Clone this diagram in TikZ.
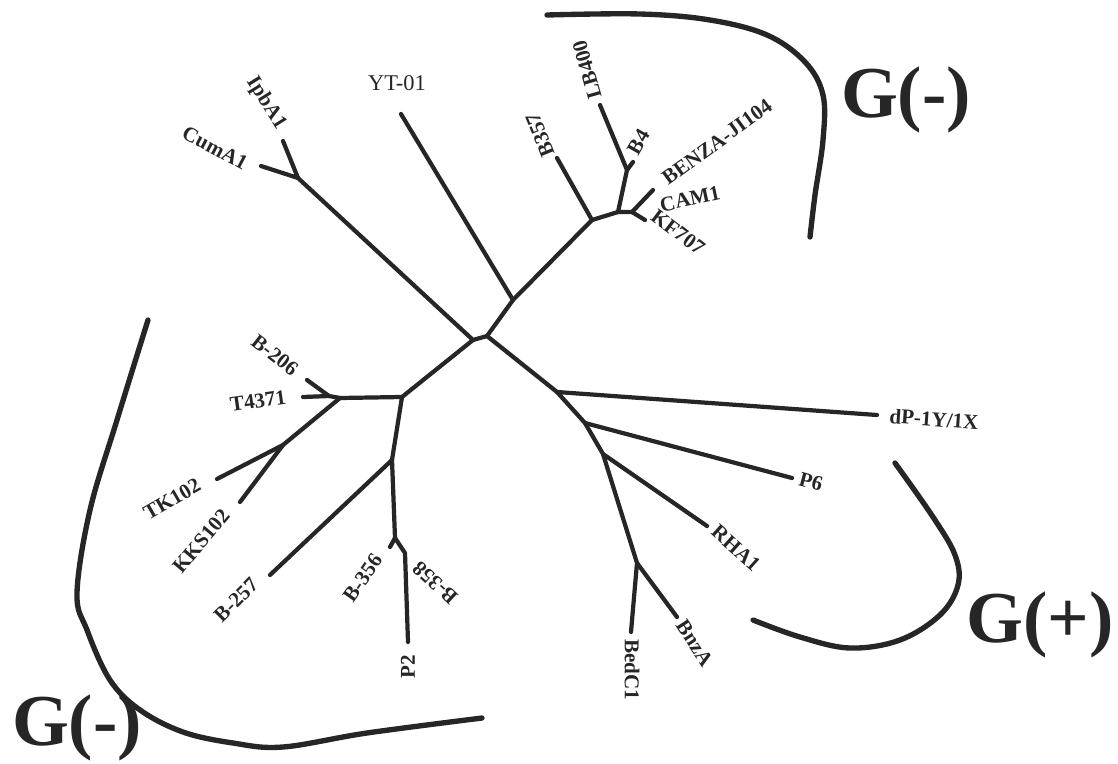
\documentclass[tikz,border=0pt]{standalone}
\usepackage{fontspec}
\setmainfont{Liberation Serif}
\usetikzlibrary{positioning}

\begin{document}
\begin{tikzpicture}[
    x=0.025cm, y=-0.025cm,
    every node/.style={font=\bfseries\fontsize{15}{15}\selectfont, inner sep=0pt, text=black!85},
    branch/.style={line width=3pt, line cap=round, line join=round, color=black!85},
    taxon/.style={anchor=center},
    group/.style={font=\bfseries\fontsize{52}{52}\selectfont},
    bracket/.style={line width=3.8pt, line cap=round, color=black!85}
]
\useasboundingbox (0,0) rectangle (1118,763);

% Internal nodes
\coordinate (a) at (473,340);
\coordinate (b) at (487,336);
\coordinate (c) at (513,300);
\coordinate (d) at (592,220);
\coordinate (e) at (618,212);
\coordinate (f) at (627,170);
\coordinate (g) at (632,212);
\coordinate (h) at (298,178);
\coordinate (i) at (402,397);
\coordinate (j) at (340,398);
\coordinate (k) at (329,396);
\coordinate (l) at (283,445);
\coordinate (m) at (392,460);
\coordinate (n) at (395,538);
\coordinate (o) at (405,553);
\coordinate (p) at (557,392);
\coordinate (q) at (585,423);
\coordinate (r) at (603,454);
\coordinate (s) at (637,563);

% Leaf ends
\coordinate (ipb)   at (283,141);
\coordinate (cum)   at (261,166);
\coordinate (yt)    at (401,114);
\coordinate (b357)  at (557,158);
\coordinate (lb)    at (600,105);
\coordinate (b4)    at (633,162);
\coordinate (benza) at (653,190);
\coordinate (kf)    at (645,220);
\coordinate (b206)  at (307,380);
\coordinate (t43)   at (303,397);
\coordinate (tk)    at (217,479);
\coordinate (kks)   at (240,502);
\coordinate (b257)  at (270,575);
\coordinate (b356)  at (390,547);
\coordinate (p2)    at (408,642);
\coordinate (dp)    at (877,415);
\coordinate (p6)    at (792,478);
\coordinate (rha)   at (707,526);
\coordinate (bed)   at (631,632);
\coordinate (bnz)   at (677,617);

% Branches
\draw[branch] (ipb) -- (h) -- (cum);
\draw[branch] (h) -- (a) -- (b) -- (c) -- (yt);
\draw[branch] (c) -- (d) -- (b357);
\draw[branch] (d) -- (e) -- (f) -- (lb);
\draw[branch] (f) -- (b4);
\draw[branch] (e) -- (g) -- (benza);
\draw[branch] (g) -- (kf);
\draw[branch] (a) -- (i) -- (j) -- (k) -- (t43);
\draw[branch] (k) -- (b206);
\draw[branch] (j) -- (l) -- (tk);
\draw[branch] (l) -- (kks);
\draw[branch] (i) -- (m) -- (b257);
\draw[branch] (m) -- (n) -- (b356);
\draw[branch] (n) -- (o) -- (p2);
\draw[branch] (b) -- (p) -- (dp);
\draw[branch] (p) -- (q) -- (p6);
\draw[branch] (q) -- (r) -- (rha);
\draw[branch] (r) -- (s) -- (bed);
\draw[branch] (s) -- (bnz);

% Taxon labels
\node[taxon, rotate=-58] (lipb)   at (266,103) {IpbA1};
\node[taxon, rotate=-28] (lcum)   at (215,148) {CumA1};
\node[taxon, font=\fontsize{16}{16}\selectfont] (lyt) at (397,83) {YT-01};
\node[taxon, rotate=112] (lb357)  at (540,135) {B357};
\node[taxon, rotate=106] (llb)    at (587,70)  {LB400};
\node[taxon, rotate=60]  (lb4)    at (639,142) {B4};
\node[taxon, rotate=36]  (lbenza) at (717,142) {BENZA-JI104};
\node[taxon, rotate=12]  (lcam)   at (690,199) {CAM1};
\node[taxon, rotate=-37] (lkf)    at (678,232) {KF707};
\node[taxon, rotate=-38] (lb206)  at (275,355) {B-206};
\node[taxon, rotate=8]   (lt43)   at (258,401) {T4371};
\node[taxon, rotate=30]  (ltk)    at (172,499) {TK102};
\node[taxon, rotate=50]  (lkks)   at (201,541) {KKS102};
\node[taxon, rotate=45]  (lb257)  at (236,600) {B-257};
\node[taxon, rotate=55]  (lb356)  at (363,578) {B-356};
\node[taxon, rotate=137] (lb358)  at (435,583) {B-358};
\node[taxon, rotate=90]  (lp2)    at (408,667) {P2};
\node[taxon, rotate=-4]  (ldp)    at (934,419) {dP-1Y/1X};
\node[taxon, rotate=-15] (lp6)    at (811,482) {P6};
\node[taxon, rotate=-42] (lrha)   at (736,548) {RHA1};
\node[taxon, rotate=-57] (lbnz)   at (695,643) {BnzA};
\node[taxon, rotate=-90] (lbed)   at (632,670) {BedC1};

% Group brackets
\draw[bracket] plot[smooth, tension=0.6] coordinates {(547,15) (640,14) (710,20) (767,35) (805,62) (823,95) (823,140) (815,195) (810,237)};
\draw[bracket] plot[smooth, tension=0.6] coordinates {(895,463) (933,517) (955,555) (958,585) (940,615) (900,640) (850,648) (800,637) (753,620)};
\draw[bracket] plot[smooth, tension=0.6] coordinates {(148,320) (117,420) (90,510) (77,593) (87,630) (110,680) (140,710) (183,732) (233,743) (283,747) (367,733) (482,718)};

% Group labels
\node[group] (gtop)   at (906,100) {G(-)};
\node[group] (gright) at (1040,625) {G(+)};
\node[group] (gleft)  at (77,728)  {G(-)};
\end{tikzpicture}
\end{document}
